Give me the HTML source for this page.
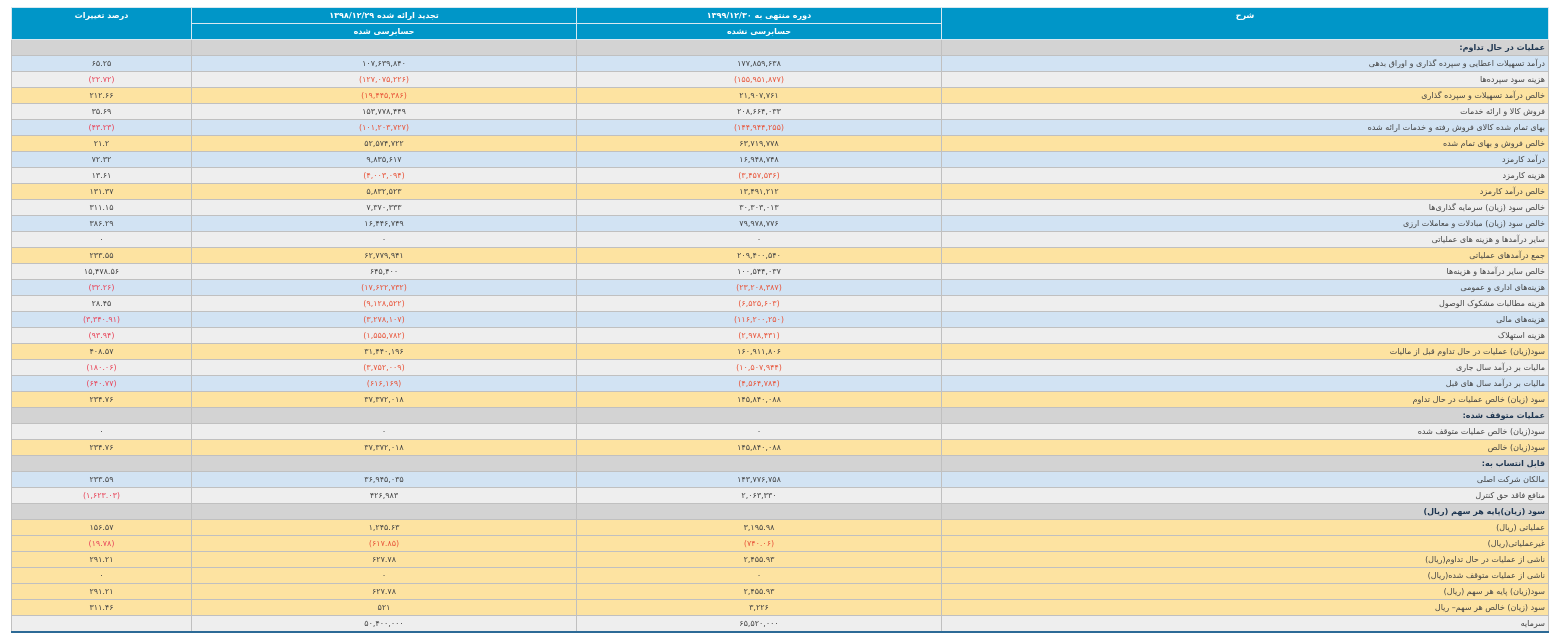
<!DOCTYPE html>
<html><head><meta charset="utf-8"><style>
body{margin:0;background:#fff;width:1564px;height:642px;overflow:hidden;font-family:"DejaVu Sans",sans-serif;}
table{position:absolute;left:11px;top:7px;width:1537px;border-collapse:collapse;table-layout:fixed;direction:rtl;border-bottom:2px solid #2d6a96;}
td{height:15px;padding:0 3px;font-size:8px;color:#444;border:1px solid #c0c0c0;white-space:nowrap;overflow:hidden;line-height:15px}
td.n{text-align:center;direction:ltr}
td.l{text-align:right}
th{background:#0096c8;color:#fff;font-size:8px;font-weight:bold;border:1px solid #d8e8f0;height:15px;padding:0;line-height:15px;vertical-align:top}
tr.g td{background:#d3d3d3}
tr.g td.l{font-weight:bold;color:#1d3550}
tr.b td{background:#d2e3f3}
tr.w td{background:#eeeeee}
tr.o td{background:#fde3a1}
.r{color:#e8553a}
.p{color:#e8465a}
</style></head><body>
<table>
<colgroup><col style="width:607px"><col style="width:365px"><col style="width:385px"><col style="width:180px"></colgroup>
<tr><th rowspan="2" style="height:31px">شرح</th><th>دوره منتهی به ۱۳۹۹/۱۲/۳۰</th><th>تجدید ارائه شده ۱۳۹۸/۱۲/۲۹</th><th rowspan="2">درصد تغییرات</th></tr>
<tr><th>حسابرسی نشده</th><th>حسابرسی شده</th></tr>
<tr class="g"><td class="l">عملیات در حال تداوم:</td><td></td><td></td><td></td></tr>
<tr class="b"><td class="l">درآمد تسهیلات اعطایی و سپرده گذاری و اوراق بدهی</td><td class="n">۱۷۷,۸۵۹,۶۳۸</td><td class="n">۱۰۷,۶۳۹,۸۴۰</td><td class="n">۶۵.۲۵</td></tr>
<tr class="w"><td class="l">هزینه سود سپرده‌ها</td><td class="n r">(۱۵۵,۹۵۱,۸۷۷)</td><td class="n r">(۱۲۷,۰۷۵,۲۲۶)</td><td class="n p">(۲۲.۷۲)</td></tr>
<tr class="o"><td class="l">خالص درآمد تسهیلات و سپرده گذاری</td><td class="n">۲۱,۹۰۷,۷۶۱</td><td class="n r">(۱۹,۴۴۵,۳۸۶)</td><td class="n">۲۱۲.۶۶</td></tr>
<tr class="w"><td class="l">فروش کالا و ارائه خدمات</td><td class="n">۲۰۸,۶۶۴,۰۳۳</td><td class="n">۱۵۳,۷۷۸,۴۴۹</td><td class="n">۳۵.۶۹</td></tr>
<tr class="b"><td class="l">بهای تمام شده کالای فروش رفته و خدمات ارائه شده</td><td class="n r">(۱۴۴,۹۴۴,۲۵۵)</td><td class="n r">(۱۰۱,۲۰۳,۷۲۷)</td><td class="n p">(۴۳.۲۳)</td></tr>
<tr class="o"><td class="l">خالص فروش و بهای تمام شده</td><td class="n">۶۳,۷۱۹,۷۷۸</td><td class="n">۵۲,۵۷۴,۷۲۲</td><td class="n">۲۱.۲</td></tr>
<tr class="b"><td class="l">درآمد کارمزد</td><td class="n">۱۶,۹۴۸,۷۴۸</td><td class="n">۹,۸۳۵,۶۱۷</td><td class="n">۷۲.۳۲</td></tr>
<tr class="w"><td class="l">هزینه کارمزد</td><td class="n r">(۳,۴۵۷,۵۳۶)</td><td class="n r">(۴,۰۰۳,۰۹۴)</td><td class="n">۱۳.۶۱</td></tr>
<tr class="o"><td class="l">خالص درآمد کارمزد</td><td class="n">۱۳,۴۹۱,۲۱۲</td><td class="n">۵,۸۳۲,۵۲۳</td><td class="n">۱۳۱.۳۷</td></tr>
<tr class="w"><td class="l">خالص سود (زیان) سرمایه گذاری‌ها</td><td class="n">۳۰,۳۰۳,۰۱۳</td><td class="n">۷,۳۷۰,۳۳۳</td><td class="n">۳۱۱.۱۵</td></tr>
<tr class="b"><td class="l">خالص سود (زیان) مبادلات و معاملات ارزی</td><td class="n">۷۹,۹۷۸,۷۷۶</td><td class="n">۱۶,۴۴۶,۷۴۹</td><td class="n">۳۸۶.۲۹</td></tr>
<tr class="w"><td class="l">سایر درآمدها و هزینه های عملیاتی</td><td class="n">۰</td><td class="n">۰</td><td class="n">۰</td></tr>
<tr class="o"><td class="l">جمع درآمدهای عملیاتی</td><td class="n">۲۰۹,۴۰۰,۵۴۰</td><td class="n">۶۲,۷۷۹,۹۴۱</td><td class="n">۲۳۳.۵۵</td></tr>
<tr class="w"><td class="l">خالص سایر درآمدها و هزینه‌ها</td><td class="n">۱۰۰,۵۴۴,۰۳۷</td><td class="n">۶۴۵,۴۰۰</td><td class="n">۱۵,۴۷۸.۵۶</td></tr>
<tr class="b"><td class="l">هزینه‌های اداری و عمومی</td><td class="n r">(۲۳,۲۰۸,۳۸۷)</td><td class="n r">(۱۷,۶۲۲,۷۳۲)</td><td class="n p">(۳۲.۲۶)</td></tr>
<tr class="w"><td class="l">هزینه مطالبات مشکوک الوصول</td><td class="n r">(۶,۵۲۵,۶۰۳)</td><td class="n r">(۹,۱۲۸,۵۲۲)</td><td class="n">۲۸.۴۵</td></tr>
<tr class="b"><td class="l">هزینه‌های مالی</td><td class="n r">(۱۱۶,۲۰۰,۲۵۰)</td><td class="n r">(۳,۲۷۸,۱۰۷)</td><td class="n p">(۳,۳۴۰.۹۱)</td></tr>
<tr class="w"><td class="l">هزینه استهلاک</td><td class="n r">(۲,۹۷۸,۴۳۱)</td><td class="n r">(۱,۵۵۵,۷۸۲)</td><td class="n p">(۹۳.۹۴)</td></tr>
<tr class="o"><td class="l">سود(زیان) عملیات در حال تداوم قبل از مالیات</td><td class="n">۱۶۰,۹۱۱,۸۰۶</td><td class="n">۳۱,۴۴۰,۱۹۶</td><td class="n">۴۰۸.۵۷</td></tr>
<tr class="w"><td class="l">مالیات بر درآمد سال جاری</td><td class="n r">(۱۰,۵۰۷,۹۴۴)</td><td class="n r">(۳,۷۵۲,۰۰۹)</td><td class="n p">(۱۸۰.۰۶)</td></tr>
<tr class="b"><td class="l">مالیات بر درآمد سال های قبل</td><td class="n r">(۴,۵۶۴,۷۸۴)</td><td class="n r">(۶۱۶,۱۶۹)</td><td class="n p">(۶۴۰.۷۷)</td></tr>
<tr class="o"><td class="l">سود (زیان) خالص عملیات در حال تداوم</td><td class="n">۱۴۵,۸۴۰,۰۸۸</td><td class="n">۳۷,۳۷۲,۰۱۸</td><td class="n">۲۳۴.۷۶</td></tr>
<tr class="g"><td class="l">عملیات متوقف شده:</td><td></td><td></td><td></td></tr>
<tr class="w"><td class="l">سود(زیان) خالص عملیات متوقف شده</td><td class="n">۰</td><td class="n">۰</td><td class="n">۰</td></tr>
<tr class="o"><td class="l">سود(زیان) خالص</td><td class="n">۱۴۵,۸۴۰,۰۸۸</td><td class="n">۳۷,۳۷۲,۰۱۸</td><td class="n">۲۳۴.۷۶</td></tr>
<tr class="g"><td class="l">قابل انتساب به:</td><td></td><td></td><td></td></tr>
<tr class="b"><td class="l">مالکان شرکت اصلی</td><td class="n">۱۴۳,۷۷۶,۷۵۸</td><td class="n">۳۶,۹۴۵,۰۳۵</td><td class="n">۲۳۳.۵۹</td></tr>
<tr class="w"><td class="l">منافع فاقد حق کنترل</td><td class="n">۲,۰۶۳,۳۳۰</td><td class="n">۴۲۶,۹۸۳</td><td class="n p">(۱,۶۲۳.۰۳)</td></tr>
<tr class="g"><td class="l">سود (زیان)پایه هر سهم (ریال)</td><td></td><td></td><td></td></tr>
<tr class="o"><td class="l">عملیاتی (ریال)</td><td class="n">۳,۱۹۵.۹۸</td><td class="n">۱,۲۴۵.۶۳</td><td class="n">۱۵۶.۵۷</td></tr>
<tr class="o"><td class="l">غیرعملیاتی(ریال)</td><td class="n r">(۷۴۰.۰۶)</td><td class="n r">(۶۱۷.۸۵)</td><td class="n p">(۱۹.۷۸)</td></tr>
<tr class="o"><td class="l">ناشی از عملیات در حال تداوم(ریال)</td><td class="n">۲,۴۵۵.۹۳</td><td class="n">۶۲۷.۷۸</td><td class="n">۲۹۱.۲۱</td></tr>
<tr class="o"><td class="l">ناشی از عملیات متوقف شده(ریال)</td><td class="n">۰</td><td class="n">۰</td><td class="n">۰</td></tr>
<tr class="o"><td class="l">سود(زیان) پایه هر سهم (ریال)</td><td class="n">۲,۴۵۵.۹۳</td><td class="n">۶۲۷.۷۸</td><td class="n">۲۹۱.۲۱</td></tr>
<tr class="o"><td class="l">سود (زیان) خالص هر سهم– ریال</td><td class="n">۳,۲۲۶</td><td class="n">۵۲۱</td><td class="n">۳۱۱.۴۶</td></tr>
<tr class="w"><td class="l">سرمایه</td><td class="n">۶۵,۵۲۰,۰۰۰</td><td class="n">۵۰,۴۰۰,۰۰۰</td><td class="n"></td></tr>
</table>
</body></html>
